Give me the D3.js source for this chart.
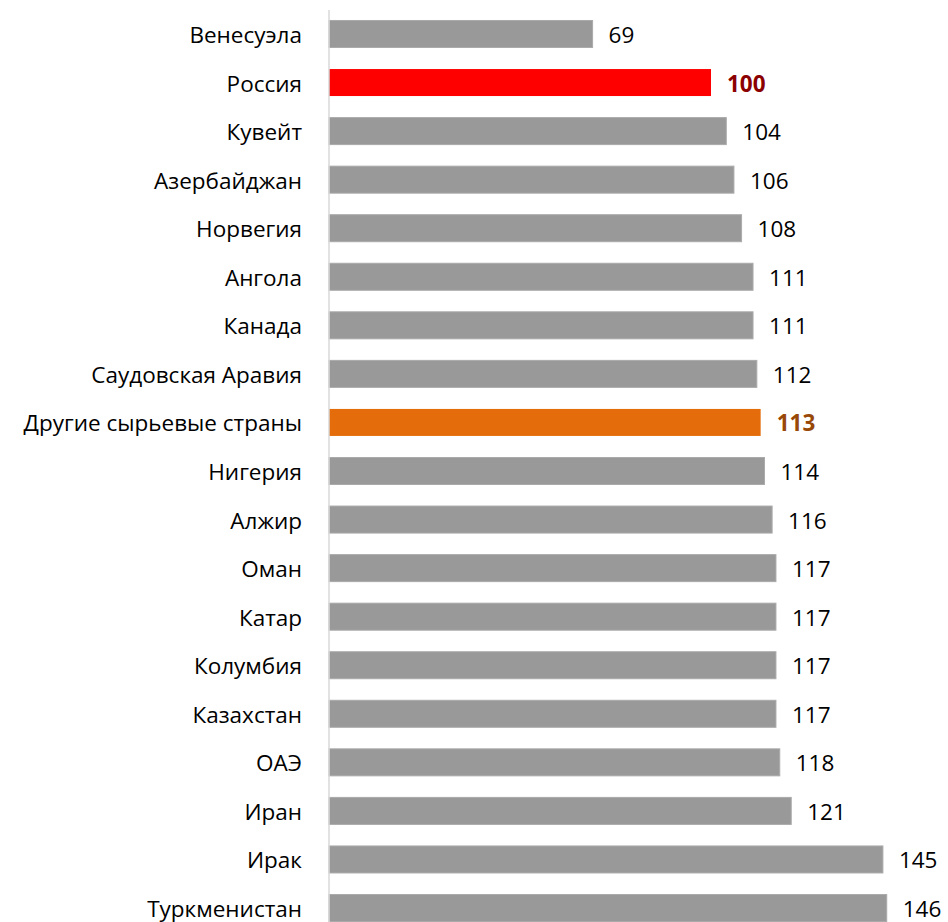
<!DOCTYPE html>
<html>
<head>
<meta charset="utf-8">
<script src="https://cdn.jsdelivr.net/npm/d3@7"></script>
<style>
  body { margin: 0; background: #fff; }
  text { font-family: "Open Sans", "DejaVu Sans", sans-serif; }
</style>
</head>
<body>
<script>
var countries = [
  "Венесуэла", "Россия", "Кувейт", "Азербайджан", "Норвегия", "Ангола",
  "Канада", "Саудовская Аравия", "Другие сырьевые страны", "Нигерия",
  "Алжир", "Оман", "Катар", "Колумбия", "Казахстан", "ОАЭ", "Иран",
  "Ирак", "Туркменистан"
];
var values = [69, 100, 104, 106, 108, 111, 111, 112, 113, 114, 116, 117, 117, 117, 117, 118, 121, 145, 146];

var width = 948,
  height = 922;

var rows = countries.map(function (c, i) { return { name: c, value: values[i] }; });

var x = d3.scaleLinear().domain([0, 100]).range([329, 711]);

var y = d3.scaleBand()
  .domain(countries)
  .range([9.7, 932.3])
  .paddingInner(0.444)
  .paddingOuter(0.222);

function barColor(d) {
  if (d.name === "Россия") return "#ff0000";
  if (d.name === "Другие сырьевые страны") return "#e46c0a";
  return "#999999";
}
function labelColor(d) {
  if (d.name === "Россия") return "#8b0000";
  if (d.name === "Другие сырьевые страны") return "#984807";
  return "#000";
}

var svg = d3.select("body").append("svg")
  .attr("width", width)
  .attr("height", height);

svg.selectAll("rect.bar")
  .data(rows)
  .enter().append("rect")
  .attr("class", "bar")
  .attr("x", x(0))
  .attr("y", function (d) { return y(d.name); })
  .attr("width", function (d) { return x(d.value) - x(0); })
  .attr("height", y.bandwidth())
  .attr("fill", barColor)
  .attr("stroke", function (d) { return barColor(d) === "#999999" ? "#aaaaaa" : "none"; })
  .attr("stroke-width", 1);

// vertical axis line
svg.append("line")
  .attr("x1", x(0)).attr("x2", x(0))
  .attr("y1", 10).attr("y2", height)
  .attr("stroke", "#d9d9d9")
  .attr("stroke-width", 1.5);

svg.selectAll("text.cat")
  .data(rows)
  .enter().append("text")
  .attr("class", "cat")
  .attr("x", 302)
  .attr("y", function (d) { return y(d.name) + y.bandwidth() / 2; })
  .attr("dy", "0.4em")
  .attr("text-anchor", "end")
  .attr("font-size", 22.5)
  .attr("fill", "#000")
  .text(function (d) { return d.name; });

svg.selectAll("text.val")
  .data(rows)
  .enter().append("text")
  .attr("class", "val")
  .attr("x", function (d) { return x(d.value) + 16; })
  .attr("y", function (d) { return y(d.name) + y.bandwidth() / 2; })
  .attr("dy", "0.4em")
  .attr("font-size", 22.5)
  .attr("font-weight", function (d) { return labelColor(d) === "#000" ? "normal" : "bold"; })
  .attr("fill", labelColor)
  .text(function (d) { return d.value; });
</script>
</body>
</html>
